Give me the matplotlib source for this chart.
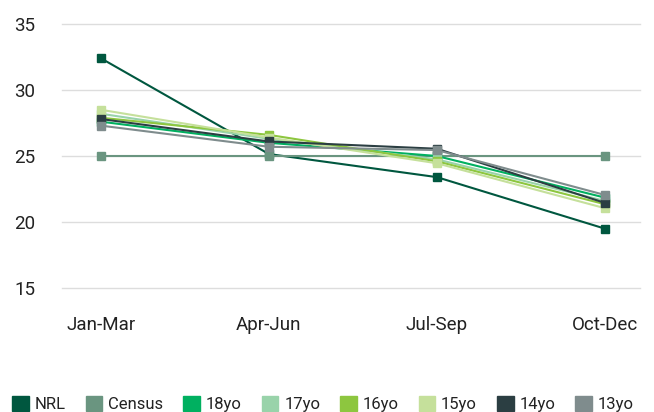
import matplotlib.pyplot as plt
from matplotlib.patches import Patch

plt.rcParams["font.family"] = ["Roboto", "DejaVu Sans"]

quarters = ["Jan-Mar", "Apr-Jun", "Jul-Sep", "Oct-Dec"]

nrl = [32.4, 25.15, 23.4, 19.5]
census = [25.0, 25.0, 25.0, 25.0]
yo18 = [27.6, 26.0, 25.0, 21.85]
yo17 = [28.2, 26.3, 24.75, 21.6]
yo16 = [27.9, 26.6, 24.6, 21.35]
yo15 = [28.5, 26.4, 24.45, 21.05]
yo14 = [27.8, 26.1, 25.55, 21.45]
yo13 = [27.3, 25.7, 25.45, 22.05]

series = ["NRL", "Census", "18yo", "17yo", "16yo", "15yo", "14yo", "13yo"]
colors = ["#00573f", "#6a9580", "#00b060", "#99d3aa", "#8dc63f", "#c5e09b", "#2b3e42", "#7f8c8d"]
values = [nrl, census, yo18, yo17, yo16, yo15, yo14, yo13]

fig = plt.figure(figsize=(6.54, 4.12), dpi=100)
ax = fig.add_axes([62 / 654, 1 - 288 / 412, 578 / 654, 264 / 412])

x = range(len(quarters))
for name, vals, c in zip(series, values, colors):
    ax.plot(x, vals, color=c, lw=1.5, marker="s", markersize=6, label=name)

ax.set_ylim(15, 35)
ax.set_xlim(-0.232, 3.21)
ax.set_yticks([15, 20, 25, 30, 35])
ax.set_xticks(list(x))
ax.set_xticklabels(quarters)
ax.tick_params(length=0, labelsize=13.5, colors="#222222")
ax.tick_params(axis="y", pad=19)
ax.tick_params(axis="x", pad=20)
ax.grid(axis="y", color="#dddddd", lw=1)
for gl in ax.get_ygridlines():
    gl.set_clip_on(False)
ax.set_axisbelow(True)
for s in ax.spines.values():
    s.set_visible(False)

handles = [Patch(color=c, label=n) for n, c in zip(series, colors)]
fig.legend(handles=handles, loc="center", bbox_to_anchor=(323 / 654, 1 - 404 / 412), ncol=8,
           frameon=False, fontsize=12, handlelength=1.0, handleheight=1.0,
           handletextpad=0.35, columnspacing=1.2, labelcolor="#222222",
           borderpad=0, borderaxespad=0)

fig.savefig("out.png", dpi=100)
